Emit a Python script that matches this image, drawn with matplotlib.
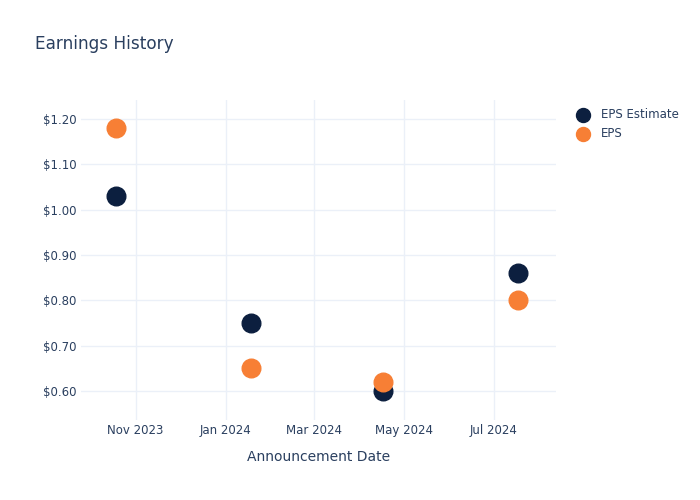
import matplotlib
matplotlib.use("Agg")
import matplotlib.pyplot as plt
import matplotlib.dates as mdates
from matplotlib.ticker import FuncFormatter
import numpy as np

# data
dates = np.array(["2023-10-19", "2024-01-18", "2024-04-17", "2024-07-17"], dtype="datetime64[D]")
eps_estimate = [1.03, 0.75, 0.60, 0.86]
eps_actual = [1.18, 0.65, 0.62, 0.80]

text_col = "#2a3f5f"
grid_col = "#ebf0f8"

fig = plt.figure(figsize=(7, 5), dpi=100)
ax = fig.add_axes([0.1157, 0.16, 0.6786, 0.64])

ax.scatter(dates, eps_estimate, s=180, color="#0c1f3f", label="EPS Estimate", zorder=3)
ax.scatter(dates, eps_actual, s=180, color="#f77f35", label="EPS", zorder=4)

ax.set_xlim(np.datetime64("2023-09-25"), np.datetime64("2024-08-12"))
ax.set_ylim(0.536, 1.242)

ax.xaxis.set_major_locator(mdates.MonthLocator(bymonth=[1, 3, 5, 7, 9, 11]))
ax.xaxis.set_major_formatter(mdates.DateFormatter("%b %Y"))
ax.set_yticks([0.6, 0.7, 0.8, 0.9, 1.0, 1.1, 1.2])
ax.yaxis.set_major_formatter(FuncFormatter(lambda v, p: f"${v:.2f}"))

for s in ax.spines.values():
    s.set_visible(False)
ax.grid(True, color=grid_col, linewidth=1)
ax.set_axisbelow(True)
ax.tick_params(length=0, labelsize=8.5, colors=text_col)
ax.tick_params(axis="x", pad=3)
ax.tick_params(axis="y", pad=3)

ax.set_xlabel("Announcement Date", fontsize=10, color=text_col, labelpad=9.5)
fig.text(0.05, 0.912, "Earnings History", fontsize=12.2, color=text_col, va="center")

fig.legend(loc="upper left", bbox_to_anchor=(0.809, 0.794), frameon=False,
           fontsize=8.5, labelcolor=text_col, markerscale=0.75, handletextpad=0.5,
           labelspacing=0.55, borderaxespad=0)

fig.savefig("out.png", dpi=100, facecolor="white")
